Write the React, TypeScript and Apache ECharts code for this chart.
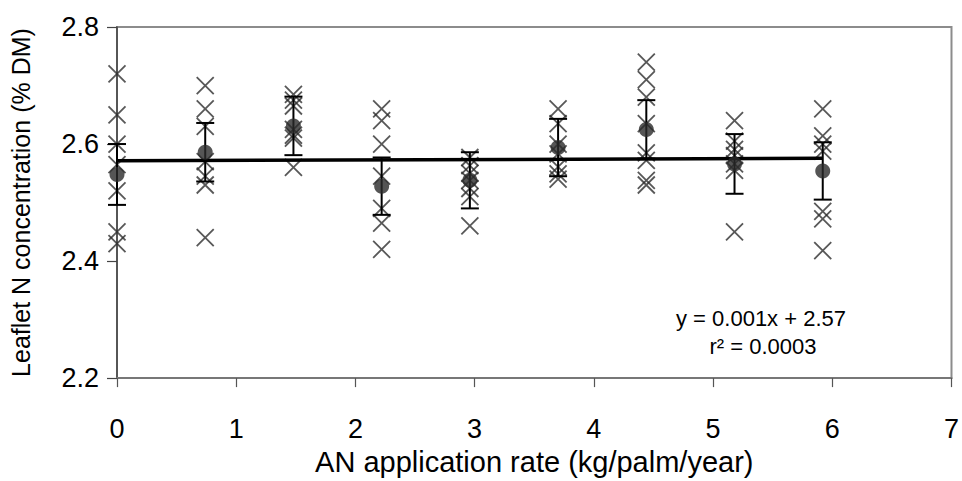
import React, { useEffect, useRef } from "react";
import * as echarts from "echarts";

// AN application rates (kg/palm/year)
const rates = [0, 0.74, 1.48, 2.22, 2.96, 3.7, 4.44, 5.18, 5.92];

// individual leaflet N observations (% DM) per rate
const obs0 = [2.72, 2.65, 2.6, 2.565, 2.52, 2.45, 2.43];
const obs1 = [2.7, 2.66, 2.63, 2.57, 2.545, 2.53, 2.44];
const obs2 = [2.685, 2.675, 2.665, 2.625, 2.615, 2.61, 2.56];
const obs3 = [2.66, 2.64, 2.6, 2.545, 2.49, 2.465, 2.42];
const obs4 = [2.577, 2.563, 2.55, 2.538, 2.524, 2.51, 2.46];
const obs5 = [2.66, 2.635, 2.6, 2.583, 2.561, 2.549, 2.54];
const obs6 = [2.74, 2.71, 2.68, 2.635, 2.585, 2.572, 2.538, 2.53];
const obs7 = [2.64, 2.605, 2.591, 2.58, 2.566, 2.555, 2.45];
const obs8 = [2.66, 2.614, 2.6, 2.588, 2.485, 2.472, 2.418];
const observations = [obs0, obs1, obs2, obs3, obs4, obs5, obs6, obs7, obs8];

// treatment means and standard errors
const means = [2.548, 2.586, 2.631, 2.528, 2.538, 2.594, 2.625, 2.566, 2.554];
const sems = [0.052, 0.05, 0.05, 0.049, 0.048, 0.049, 0.05, 0.051, 0.049];

// fitted regression line end points
const trendX = [0, 5.92];
const trendY = [2.5715, 2.5755];

// axis ticks
const xTicks = [0, 1, 2, 3, 4, 5, 6, 7];
const yTicks = [2.2, 2.4, 2.6, 2.8];

const equationText = "y = 0.001x + 2.57";
const r2Text = "r² = 0.0003";

const FONT = "'Liberation Sans', Arial, sans-serif";
const CROSS = "path://M0,0L10,10M10,0L0,10";

export default function App() {
  const ref = useRef<HTMLDivElement>(null);

  useEffect(() => {
    if (!ref.current) return;
    const chart = echarts.init(ref.current, undefined, { renderer: "svg" });

    const scatterData: number[][] = [];
    observations.forEach((arr, i) => arr.forEach((v) => scatterData.push([rates[i], v])));
    const meanData = rates.map((x, i) => [x, means[i]]);
    const errData = rates.map((x, i) => [x, means[i], sems[i]]);
    const trendData = trendX.map((x, i) => [x, trendY[i]]);

    chart.setOption({
      animation: false,
      grid: {
        left: 116,
        right: 7,
        top: 27,
        bottom: 95,
        show: true,
        borderColor: "#8c8c8c",
        borderWidth: 2,
        backgroundColor: "#fff",
      },
      xAxis: {
        type: "value",
        min: xTicks[0],
        max: xTicks[xTicks.length - 1],
        interval: 1,
        name: "AN application rate (kg/palm/year)",
        nameLocation: "middle",
        nameGap: 62,
        nameTextStyle: { fontFamily: FONT, fontSize: 29, color: "#000" },
        axisLine: { show: true, lineStyle: { color: "#777", width: 2 } },
        axisTick: { show: true, length: 9, lineStyle: { color: "#555", width: 1.2 } },
        axisLabel: { margin: 37, fontFamily: FONT, fontSize: 27, color: "#000" },
        splitLine: { show: false },
      },
      yAxis: {
        type: "value",
        min: yTicks[0],
        max: yTicks[yTicks.length - 1],
        interval: 0.2,
        name: "Leaflet N concentration (% DM)",
        nameLocation: "middle",
        nameGap: 84,
        nameRotate: 90,
        nameTextStyle: { fontFamily: FONT, fontSize: 25, color: "#000" },
        axisLine: { show: true, lineStyle: { color: "#444", width: 1.5 } },
        axisTick: { show: true, length: 10, lineStyle: { color: "#444", width: 1.2 } },
        axisLabel: {
          margin: 18,
          fontFamily: FONT,
          fontSize: 27,
          color: "#000",
          formatter: (v: number) => v.toFixed(1),
        },
        splitLine: { show: false },
      },
      series: [
        {
          type: "scatter",
          data: scatterData,
          symbol: CROSS,
          symbolSize: 17,
          itemStyle: { color: "none", borderColor: "#2e2e2e", borderWidth: 1.8 },
          z: 2,
        },
        {
          type: "line",
          data: trendData,
          showSymbol: false,
          symbol: "none",
          lineStyle: { color: "#000", width: 3.5 },
          z: 3,
        },
        {
          type: "custom",
          data: errData,
          z: 4,
          renderItem: (params: any, api: any) => {
            const x = api.value(0);
            const m = api.value(1);
            const s = api.value(2);
            const top = api.coord([x, m + s]);
            const bot = api.coord([x, m - s]);
            const hw = 9;
            const style = { stroke: "#000", lineWidth: 2 };
            return {
              type: "group",
              children: [
                { type: "line", shape: { x1: top[0], y1: top[1], x2: bot[0], y2: bot[1] }, style },
                { type: "line", shape: { x1: top[0] - hw, y1: top[1], x2: top[0] + hw, y2: top[1] }, style },
                { type: "line", shape: { x1: bot[0] - hw, y1: bot[1], x2: bot[0] + hw, y2: bot[1] }, style },
              ],
            };
          },
        },
        {
          type: "scatter",
          data: meanData,
          symbol: "circle",
          symbolSize: 15,
          itemStyle: { color: "#2b2b2b" },
          z: 5,
        },
      ],
      graphic: [
        {
          type: "text",
          x: 761,
          y: 318,
          style: {
            text: equationText,
            font: `22px ${FONT}`,
            fill: "#000",
            align: "center",
            verticalAlign: "middle",
          },
        },
        {
          type: "text",
          x: 763,
          y: 346,
          style: {
            text: r2Text,
            font: `22px ${FONT}`,
            fill: "#000",
            align: "center",
            verticalAlign: "middle",
          },
        },
      ],
    });

    return () => chart.dispose();
  }, []);

  return (
    <div
      ref={ref}
      style={{ position: "fixed", left: 0, top: 0, width: 962, height: 481, background: "#fff" }}
    />
  );
}
